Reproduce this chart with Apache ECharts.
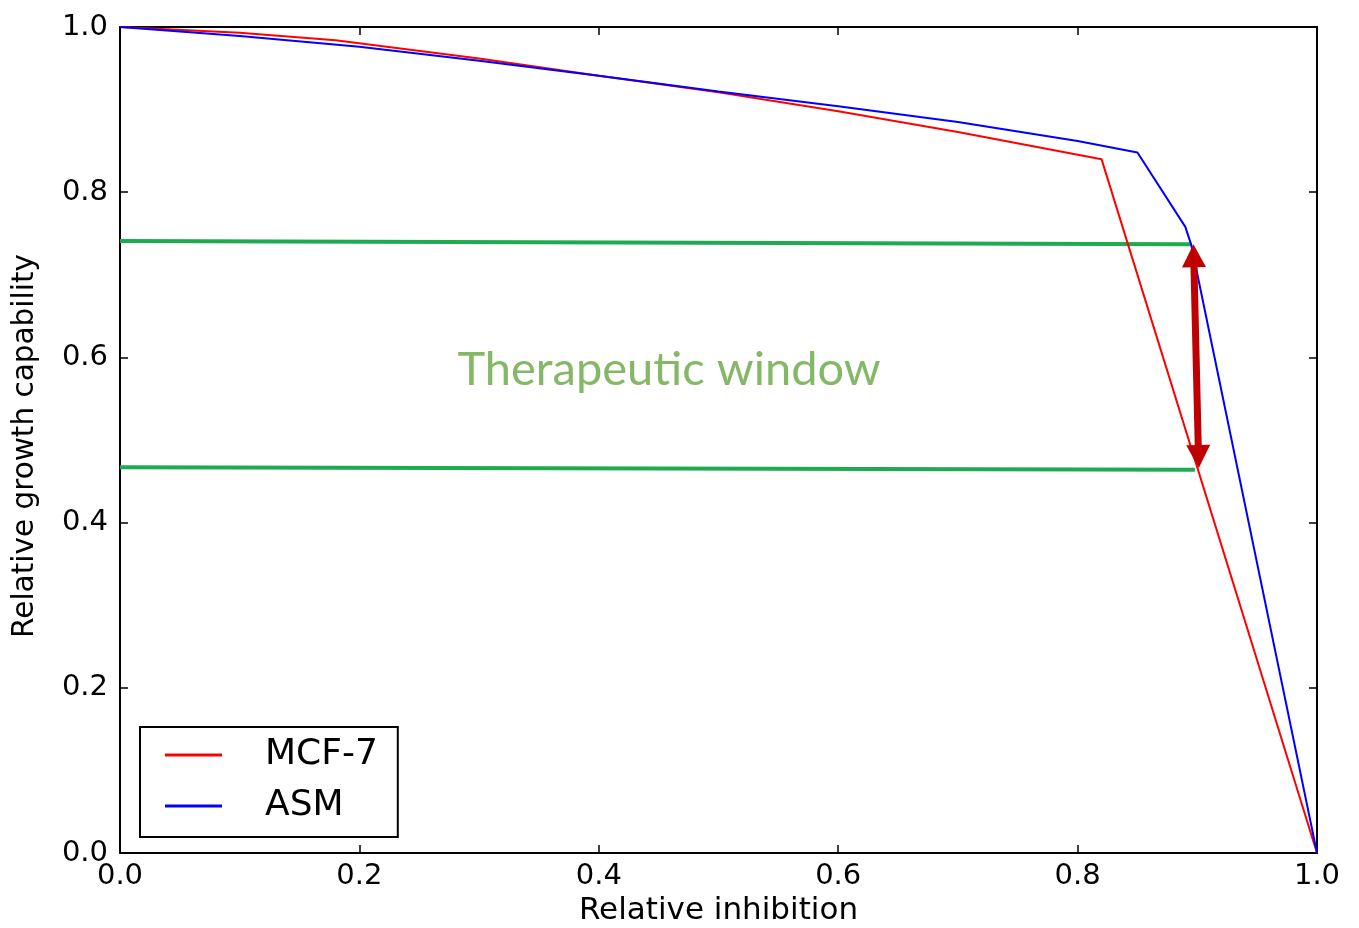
<!DOCTYPE html>
<html>
<head>
<meta charset="utf-8">
<script src="https://cdn.jsdelivr.net/npm/echarts@6/dist/echarts.min.js"></script>
<style>
  html, body { margin: 0; padding: 0; background: #fff; }
  #chart { width: 1359px; height: 928px; }
</style>
</head>
<body>
<div id="chart"></div>
<script>
// MCF-7 curve
const mcf7X = [0, 0.1, 0.18, 0.3, 0.4, 0.5, 0.6, 0.7, 0.82, 1.0]
const mcf7Y = [1.0, 0.993, 0.984, 0.962, 0.941, 0.921, 0.898, 0.873, 0.840, 0.0]
// ASM curve
const asmX = [0, 0.1, 0.2, 0.3, 0.4, 0.5, 0.6, 0.7, 0.8, 0.85, 0.89, 0.895, 1.0]
const asmY = [1.0, 0.989, 0.976, 0.959, 0.941, 0.922, 0.904, 0.885, 0.862, 0.848, 0.758, 0.736, 0.0]
// therapeutic window bounds
const upperX = [0, 0.895]
const upperY = [0.741, 0.737]
const lowerX = [0, 0.898]
const lowerY = [0.467, 0.464]
// double arrow (head centres)
const arrowX = [0.897, 0.901]
const arrowY = [0.723, 0.480]
// annotation
const windowLabel = 'Therapeutic window'
const windowLabelPos = [0.4587, 0.585]

const ticks = [0, 0.2, 0.4, 0.6, 0.8, 1.0]

const font = 'DejaVu Sans'

function pairs(xs, ys) {
  return xs.map((x, i) => [x, ys[i]])
}

const axisCommon = {
  type: 'value',
  min: ticks[0],
  max: ticks[ticks.length - 1],
  interval: ticks[1] - ticks[0],
  splitLine: { show: false },
  axisLine: { show: true, onZero: false, lineStyle: { color: '#000', width: 2 } },
  axisTick: { show: true, inside: true, length: 8, lineStyle: { color: '#000', width: 1.5 } }
}

const chart = echarts.init(document.getElementById('chart'))

chart.setOption({
  animation: false,
  backgroundColor: '#fff',
  grid: {
    left: 120,
    right: 42,
    top: 27,
    bottom: 75,
    containLabel: false,
    outerBoundsMode: 'none'
  },
  legend: {
    orient: 'vertical',
    left: 140,
    top: 727,
    padding: [10, 20, 13, 25],
    borderColor: '#000',
    borderWidth: 2,
    itemGap: 15,
    itemWidth: 57,
    itemHeight: 3,
    icon: 'rect',
    textStyle: {
      fontFamily: font,
      fontSize: 36,
      color: '#000',
      padding: [0, 0, 0, 38]
    },
    data: ['MCF-7', 'ASM']
  },
  xAxis: [
    Object.assign({}, axisCommon, {
      position: 'bottom',
      name: 'Relative inhibition',
      nameLocation: 'middle',
      nameGap: 32,
      nameTextStyle: { fontFamily: font, fontSize: 31, color: '#000' },
      axisLabel: {
        fontFamily: font,
        fontSize: 29,
        color: '#000',
        margin: 9,
        formatter: v => v.toFixed(1)
      }
    }),
    Object.assign({}, axisCommon, {
      position: 'top',
      axisLabel: { show: false }
    })
  ],
  yAxis: [
    Object.assign({}, axisCommon, {
      position: 'left',
      name: 'Relative growth capability',
      nameLocation: 'middle',
      nameGap: 80,
      nameTextStyle: { fontFamily: font, fontSize: 29.5, color: '#000', padding: [0, 12, 0, 0] },
      axisLabel: {
        fontFamily: font,
        fontSize: 29,
        color: '#000',
        margin: 12,
        formatter: v => v.toFixed(1)
      }
    }),
    Object.assign({}, axisCommon, {
      position: 'right',
      axisLabel: { show: false }
    })
  ],
  series: [
    {
      name: 'window-upper',
      type: 'line',
      symbol: 'none',
      lineStyle: { color: '#1eaa50', width: 4 },
      data: pairs(upperX, upperY)
    },
    {
      name: 'window-lower',
      type: 'line',
      symbol: 'none',
      lineStyle: { color: '#1eaa50', width: 4 },
      data: pairs(lowerX, lowerY)
    },
    {
      name: 'MCF-7',
      type: 'line',
      symbol: 'none',
      itemStyle: { color: '#ff0000' },
      lineStyle: { color: '#ff0000', width: 2 },
      data: pairs(mcf7X, mcf7Y)
    },
    {
      name: 'ASM',
      type: 'line',
      symbol: 'none',
      itemStyle: { color: '#0000ff' },
      lineStyle: { color: '#0000ff', width: 2 },
      data: pairs(asmX, asmY),
      markLine: {
        silent: true,
        symbol: ['triangle', 'triangle'],
        symbolSize: [24, 23],
        label: { show: false },
        lineStyle: { color: '#c00000', width: 7, type: 'solid' },
        data: [[
          { coord: [arrowX[0], arrowY[0]] },
          { coord: [arrowX[1], arrowY[1]] }
        ]]
      }
    },
    {
      name: 'label',
      type: 'scatter',
      symbolSize: 0,
      silent: true,
      label: {
        show: true,
        position: 'inside',
        formatter: windowLabel,
        fontFamily: 'Lato',
        fontSize: 47,
        color: '#66a640'
      },
      data: [windowLabelPos]
    }
  ]
})
</script>
</body>
</html>
